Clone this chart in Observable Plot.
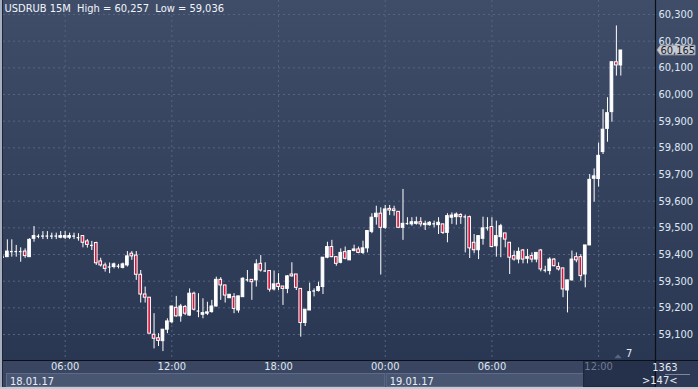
<!DOCTYPE html>
<html>
<head>
<meta charset="utf-8">
<script src="https://cdn.jsdelivr.net/npm/d3@7"></script>
<script src="https://cdn.jsdelivr.net/npm/@observablehq/plot@0.6"></script>
<style>
html, body { margin: 0; padding: 0; background: #2b3853; }
#chart svg { display: block; }
</style>
</head>
<body>
<div id="chart"></div>
<script>
// ---------- data ----------
const headerText = "USDRUB 15M  High = 60,257  Low = 59,036";
const startTime = "2017-01-18T02:30:00Z";   // first 15-minute candle
const stepMinutes = 15;
const opens = [
59.390,59.390,59.411,59.411,59.411,59.411,59.390,59.459,59.468,59.469,
59.469,59.469,59.469,59.463,59.463,59.463,59.469,59.463,59.469,59.449,
59.434,59.443,59.374,59.359,59.353,59.353,59.356,59.350,59.359,59.403,
59.396,59.324,59.250,59.238,59.099,59.086,59.075,59.118,59.146,59.200,
59.168,59.203,59.171,59.253,59.188,59.174,59.178,59.184,59.205,59.305,
59.284,59.236,59.240,59.190,59.240,59.305,59.305,59.303,59.365,59.338,
59.338,59.269,59.290,59.280,59.271,59.325,59.325,59.271,59.143,59.190,
59.263,59.263,59.278,59.388,59.428,59.390,59.369,59.409,59.378,59.413,
59.419,59.406,59.423,59.485,59.540,59.553,59.500,59.571,59.569,59.560,
59.500,59.516,59.513,59.515,59.521,59.510,59.510,59.515,59.510,59.513,
59.481,59.538,59.540,59.548,59.541,59.540,59.444,59.416,59.459,59.500,
59.503,59.431,59.465,59.479,59.444,59.394,59.381,59.415,59.384,59.394,
59.381,59.415,59.341,59.338,59.381,59.353,59.348,59.265,59.303,59.390,
59.390,59.325,59.434,59.684,59.683,59.784,59.871,59.934,60.121,60.109
];
const highs = [
59.395,59.455,59.455,59.434,59.425,59.421,59.459,59.505,59.474,59.486,
59.486,59.480,59.480,59.486,59.486,59.480,59.480,59.478,59.469,59.456,
59.449,59.446,59.386,59.368,59.368,59.368,59.363,59.368,59.411,59.411,
59.411,59.340,59.278,59.238,59.178,59.103,59.118,59.159,59.205,59.243,
59.213,59.209,59.271,59.259,59.253,59.234,59.221,59.228,59.315,59.313,
59.284,59.249,59.253,59.243,59.313,59.340,59.305,59.380,59.396,59.369,
59.338,59.338,59.328,59.280,59.321,59.369,59.325,59.271,59.193,59.293,
59.271,59.296,59.388,59.446,59.453,59.390,59.421,59.428,59.413,59.435,
59.428,59.450,59.488,59.553,59.581,59.575,59.584,59.584,59.581,59.560,
59.644,59.538,59.538,59.540,59.538,59.525,59.523,59.525,59.538,59.513,
59.553,59.556,59.556,59.553,59.548,59.544,59.475,59.469,59.540,59.538,
59.538,59.525,59.513,59.479,59.444,59.413,59.425,59.419,59.419,59.406,
59.406,59.419,59.356,59.388,59.385,59.369,59.348,59.303,59.413,59.406,
59.400,59.434,59.700,59.721,59.818,59.943,59.988,60.121,60.257,60.165
];
const lows = [
59.385,59.390,59.390,59.390,59.371,59.386,59.390,59.446,59.459,59.456,
59.456,59.456,59.456,59.459,59.456,59.456,59.456,59.450,59.425,59.424,
59.415,59.359,59.353,59.334,59.328,59.346,59.346,59.346,59.353,59.378,
59.303,59.218,59.218,59.103,59.046,59.055,59.036,59.103,59.140,59.165,
59.146,59.171,59.168,59.188,59.163,59.159,59.171,59.180,59.203,59.228,
59.218,59.236,59.178,59.180,59.240,59.296,59.228,59.278,59.334,59.334,
59.259,59.263,59.265,59.209,59.253,59.315,59.265,59.090,59.130,59.190,
59.241,59.259,59.250,59.384,59.388,59.356,59.365,59.380,59.378,59.410,
59.403,59.400,59.406,59.478,59.510,59.323,59.494,59.546,59.544,59.500,
59.453,59.510,59.506,59.510,59.503,59.490,59.506,59.500,59.475,59.475,
59.444,59.513,59.510,59.513,59.406,59.385,59.403,59.381,59.435,59.488,
59.425,59.390,59.388,59.425,59.325,59.375,59.365,59.365,59.365,59.369,
59.369,59.335,59.331,59.323,59.354,59.338,59.238,59.181,59.300,59.369,
59.300,59.275,59.434,59.596,59.653,59.775,59.821,59.896,60.069,60.069
];
const closes = [
59.390,59.411,59.411,59.411,59.411,59.394,59.455,59.469,59.468,59.469,
59.469,59.469,59.469,59.469,59.469,59.469,59.469,59.463,59.444,59.436,
59.434,59.367,59.359,59.346,59.353,59.363,59.356,59.363,59.393,59.393,
59.324,59.250,59.238,59.103,59.084,59.076,59.118,59.149,59.205,59.168,
59.205,59.178,59.253,59.193,59.188,59.180,59.183,59.205,59.305,59.284,
59.246,59.249,59.196,59.243,59.309,59.305,59.296,59.363,59.340,59.338,
59.268,59.288,59.278,59.271,59.318,59.318,59.275,59.143,59.193,59.259,
59.263,59.278,59.388,59.428,59.390,59.365,59.406,59.384,59.413,59.419,
59.406,59.423,59.488,59.538,59.553,59.500,59.569,59.565,59.563,59.500,
59.515,59.516,59.521,59.521,59.513,59.515,59.519,59.515,59.519,59.481,
59.544,59.546,59.550,59.540,59.541,59.423,59.416,59.469,59.498,59.500,
59.428,59.469,59.506,59.456,59.388,59.381,59.410,59.381,59.390,59.381,
59.406,59.344,59.341,59.381,59.356,59.344,59.269,59.303,59.381,59.378,
59.319,59.434,59.680,59.693,59.770,59.868,59.930,60.121,60.109,60.165
];
const yTicks = [59.1,59.2,59.3,59.4,59.5,59.6,59.7,59.8,59.9,60.0,60.1,60.2,60.3];
const xTickTimes = ["2017-01-18T06:00:00Z","2017-01-18T12:00:00Z","2017-01-18T18:00:00Z",
                    "2017-01-19T00:00:00Z","2017-01-19T06:00:00Z","2017-01-19T12:00:00Z"];
const xTickLabels = ["06:00","12:00","18:00","00:00","06:00","12:00"];
const dayStarts = ["2017-01-18T00:00:00Z","2017-01-19T00:00:00Z"];
const dayLabels = ["18.01.17","19.01.17"];
const panelTexts = ["1363", ">147<"];
const markerCount = "7";
const xDomain = ["2017-01-18T02:32:00Z","2017-01-19T15:12:00Z"];
const yDomain = [59.0025, 60.3525];

// ---------- build ----------
const FONT = "'Liberation Sans Narrow','Arial Narrow','DejaVu Sans Condensed','Liberation Sans',sans-serif";
const fmt = d => d.toFixed(3).replace(".", ",");
const rows = opens.map((o, i) => ({
  t: new Date(Date.parse(startTime) + i * stepMinutes * 60000),
  o, h: highs[i], l: lows[i], c: closes[i]
}));
const HALF = 4.5 * 60000;
const left = d => new Date(+d.t - HALF);
const right = d => new Date(+d.t + HALF);
const bull = rows.filter(d => d.c > d.o);
const bear = rows.filter(d => d.c < d.o);
const doji = rows.filter(d => d.c === d.o);
const lastClose = closes[closes.length - 1];
const xTicks = xTickTimes.map((t, i) => ({t: new Date(t), label: xTickLabels[i]}));
const lastTick = xTicks[xTicks.length - 1];
const GRID = "#56647f";

function background(index, scales, values, dim) {
  const {width, height, marginLeft, marginRight, marginBottom} = dim;
  const pb = height - marginBottom;
  const g = d3.create("svg:g");
  const grad = g.append("defs").append("linearGradient")
    .attr("id", "bgGrad").attr("gradientUnits", "userSpaceOnUse")
    .attr("x1", 0).attr("y1", 0).attr("x2", 0).attr("y2", pb);
  grad.append("stop").attr("offset", 0).attr("stop-color", "#3f4d69");
  grad.append("stop").attr("offset", 1).attr("stop-color", "#2a3752");
  g.append("rect").attr("width", width).attr("height", pb).attr("fill", "url(#bgGrad)");
  g.append("rect").attr("y", pb).attr("width", width).attr("height", marginBottom).attr("fill", "#3a4661");
  g.append("rect").attr("x", width - marginRight).attr("y", pb).attr("width", marginRight)
    .attr("height", marginBottom).attr("fill", "#2e3a55");
  // day boxes
  const x = scales.x;
  const xl = marginLeft, xr = width - marginRight;
  dayStarts.forEach((s, i) => {
    const a = i === 0 ? xl + 3.5 : x(new Date(s)) + 1.5;
    const b = i + 1 < dayStarts.length ? x(new Date(dayStarts[i + 1])) : xr;
    g.append("rect").attr("x", a).attr("y", pb + 13.5).attr("width", b - a).attr("height", 13)
      .attr("fill", "#485672").attr("stroke", "#5d6b88").attr("stroke-width", 1);
    g.append("text").attr("x", a + 3.5).attr("y", pb + 24.5).attr("fill", "#e8eef7")
      .attr("text-anchor", "start")
      .attr("font-size", 11).attr("font-family", FONT).text(dayLabels[i]);
  });
  // dark box under last time label
  const lx = x(lastTick.t);
  g.append("rect").attr("x", lx - 14.5).attr("y", pb + 0.5).attr("width", xr - (lx - 14.5))
    .attr("height", 26.5).attr("fill", "#25304a").attr("stroke", "#1c2538");
  return g.node();
}

function foreground(index, scales, values, dim) {
  const {width, height, marginLeft, marginRight, marginBottom} = dim;
  const pb = height - marginBottom;
  const xr = width - marginRight;
  const g = d3.create("svg:g");
  // axis lines
  g.append("line").attr("x1", 0).attr("x2", width).attr("y1", pb + 0.5).attr("y2", pb + 0.5)
    .attr("stroke", "#0b0f18").attr("stroke-width", 1.2);
  g.append("line").attr("x1", xr + 0.5).attr("x2", xr + 0.5).attr("y1", 0).attr("y2", height)
    .attr("stroke", "#0b0f18").attr("stroke-width", 1.2);
  // panel separator in the corner
  g.append("line").attr("x1", xr + 10).attr("x2", width - 8).attr("y1", pb + 14.5).attr("y2", pb + 14.5)
    .attr("stroke", "#7d889b");
  // borders
  g.append("rect").attr("x", 0).attr("y", 0).attr("width", 2).attr("height", height).attr("fill", "#a5afbf");
  g.append("rect").attr("x", 2).attr("y", 0).attr("width", 1).attr("height", height).attr("fill", "#1d2537");
  g.append("rect").attr("x", 0).attr("y", height - 2).attr("width", width).attr("height", 2).attr("fill", "#c4cbd5");
  // price marker
  const y0 = scales.y(lastClose);
  g.append("polygon")
    .attr("points", `${xr + 2},${y0} ${xr + 5.5},${y0 - 4.8} ${width - 3},${y0 - 4.8} ${width - 3},${y0 + 4.8} ${xr + 5.5},${y0 + 4.8}`)
    .attr("fill", "#c6cad1").attr("stroke", "#9ea5b0");
  // small triangle marker near the bottom
  g.append("polygon")
    .attr("points", `${xr - 40.7},${pb - 1.7} ${xr - 33.3},${pb - 1.7} ${xr - 37},${pb - 5.7}`)
    .attr("fill", "#58667f");
  return g.node();
}

const chart = Plot.plot({
  width: 698,
  height: 389,
  marginLeft: 3,
  marginRight: 43,
  marginTop: 0,
  marginBottom: 29,
  style: {background: "transparent", fontFamily: FONT, fontSize: "11px", overflow: "visible"},
  x: {type: "utc", domain: xDomain.map(d => new Date(d)), axis: null},
  y: {domain: yDomain, axis: null},
  marks: [
    background,
    Plot.gridY(yTicks, {stroke: GRID, strokeOpacity: 1, strokeDasharray: "2,3"}),
    Plot.gridX(xTicks.map(d => d.t), {stroke: GRID, strokeOpacity: 1, strokeDasharray: "2,3"}),
    Plot.ruleX(rows, {x: "t", y1: "l", y2: "h", stroke: "#ffffff", strokeWidth: 1, clip: true}),
    Plot.rect(bull, {x1: left, x2: right, y1: "o", y2: "c", fill: "#ffffff", stroke: "#ffffff", strokeWidth: 1, clip: true}),
    Plot.rect(bear, {x1: left, x2: right, y1: "c", y2: "o", fill: "#d6123d", stroke: "#ffffff", strokeWidth: 1, clip: true}),
    Plot.ruleY(doji, {x1: left, x2: right, y: "c", stroke: "#ffffff", strokeWidth: 1.3, clip: true}),
    // y labels
    Plot.text(yTicks, {y: d => d, frameAnchor: "right", dx: 3, textAnchor: "start", text: fmt,
      fill: "#dfe7f3", fontSize: 11}),
    // x labels
    Plot.text(xTicks.slice(0, -1), {x: "t", text: "label", frameAnchor: "bottom", dy: 9.5,
      fill: "#dfe7f3", fontSize: 11}),
    foreground,
    Plot.text([lastTick], {x: "t", text: "label", frameAnchor: "bottom", dy: 9.5,
      fill: "#6f7c92", fontSize: 11}),
    Plot.text([lastClose], {y: d => d, frameAnchor: "right", dx: 5, textAnchor: "start", text: fmt,
      fill: "#1a202c", fontSize: 11}),
    Plot.text([headerText], {frameAnchor: "top-left", dx: 1, dy: 4, textAnchor: "start", lineAnchor: "top",
      fill: "#f1f5fb", fontSize: 11}),
    Plot.text([markerCount], {frameAnchor: "bottom-right", dx: -29.5, dy: -3.5, textAnchor: "start",
      fill: "#e8eef7", fontSize: 11}),
    Plot.text([panelTexts[0]], {frameAnchor: "bottom-right", dx: 22, dy: 10, fill: "#e6ecf5", fontSize: 11}),
    Plot.text([panelTexts[1]], {frameAnchor: "bottom-right", dx: 22, dy: 23, fill: "#e6ecf5", fontSize: 11})
  ]
});
document.getElementById("chart").appendChild(chart);
</script>
</body>
</html>
